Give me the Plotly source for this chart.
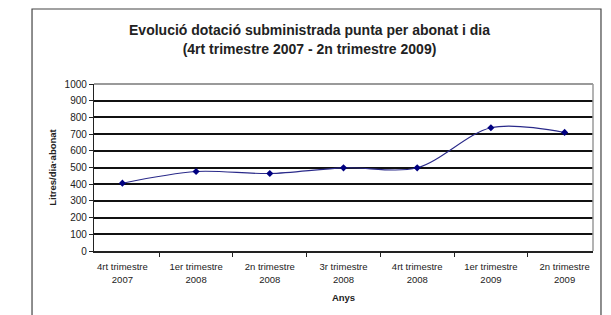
import plotly.graph_objects as go

categories = ["4rt trimestre<br>2007", "1er trimestre<br>2008", "2n trimestre<br>2008",
              "3r trimestre<br>2008", "4rt trimestre<br>2008", "1er trimestre<br>2009",
              "2n trimestre<br>2009"]
values = [406, 476, 464, 498, 498, 738, 710]
y_ticks = list(range(0, 1001, 100))

fig = go.Figure()
fig.add_trace(go.Scatter(
    x=categories, y=values, mode="lines+markers",
    line=dict(color="#2a2a8a", width=1.1, shape="spline", smoothing=0.9),
    marker=dict(symbol="diamond", size=5.5, color="#000080"),
    showlegend=False,
))

FONT = "Liberation Sans, Arial, sans-serif"
fig.update_layout(
    width=603, height=307,
    margin=dict(l=86, r=18, t=76, b=64),
    paper_bgcolor="white", plot_bgcolor="white",
    font=dict(family=FONT, color="#222", size=9.5),
    title=dict(text="<b>Evolució dotació subministrada punta per abonat i dia<br>(4rt trimestre 2007 - 2n trimestre 2009)</b>",
               x=0.5, xanchor="center", y=0.911, yanchor="top",
               font=dict(size=14, family=FONT, color="#222")),
    xaxis=dict(
        type="category", showgrid=False, showline=True, linecolor="#222", linewidth=1.5,
        ticks="outside", tickson="boundaries", ticklen=4, tickcolor="#222",
        tickfont=dict(size=9.5), mirror=False, ticklabelstandoff=6,
        title=dict(text="<b>Anys</b>", font=dict(size=9.5), standoff=11),
    ),
    yaxis=dict(
        range=[0, 1000], tickvals=y_ticks, showgrid=True, gridcolor="#111", gridwidth=1.5,
        showline=True, linecolor="#222", linewidth=1.3, ticks="outside", ticklen=4,
        tickcolor="#222", tickfont=dict(size=10), zeroline=False,
        title=dict(text="<b>Litres/dia·abonat</b>", font=dict(size=9.5), standoff=6),
    ),
    shapes=[
        # plot area border (grey), top and right
        dict(type="line", xref="paper", yref="paper", x0=0, x1=1, y0=1, y1=1,
             line=dict(color="#9a9a9a", width=2), layer="above"),
        dict(type="line", xref="paper", yref="paper", x0=1, x1=1, y0=0, y1=1,
             line=dict(color="#9a9a9a", width=1.5), layer="above"),
        # outer chart frame
        dict(type="rect", xref="paper", yref="paper", x0=-0.1242, x1=1.016, y0=-0.47, y1=1.449,
             line=dict(color="#444", width=1.2)),
    ],
)

fig.write_html("out.html")
